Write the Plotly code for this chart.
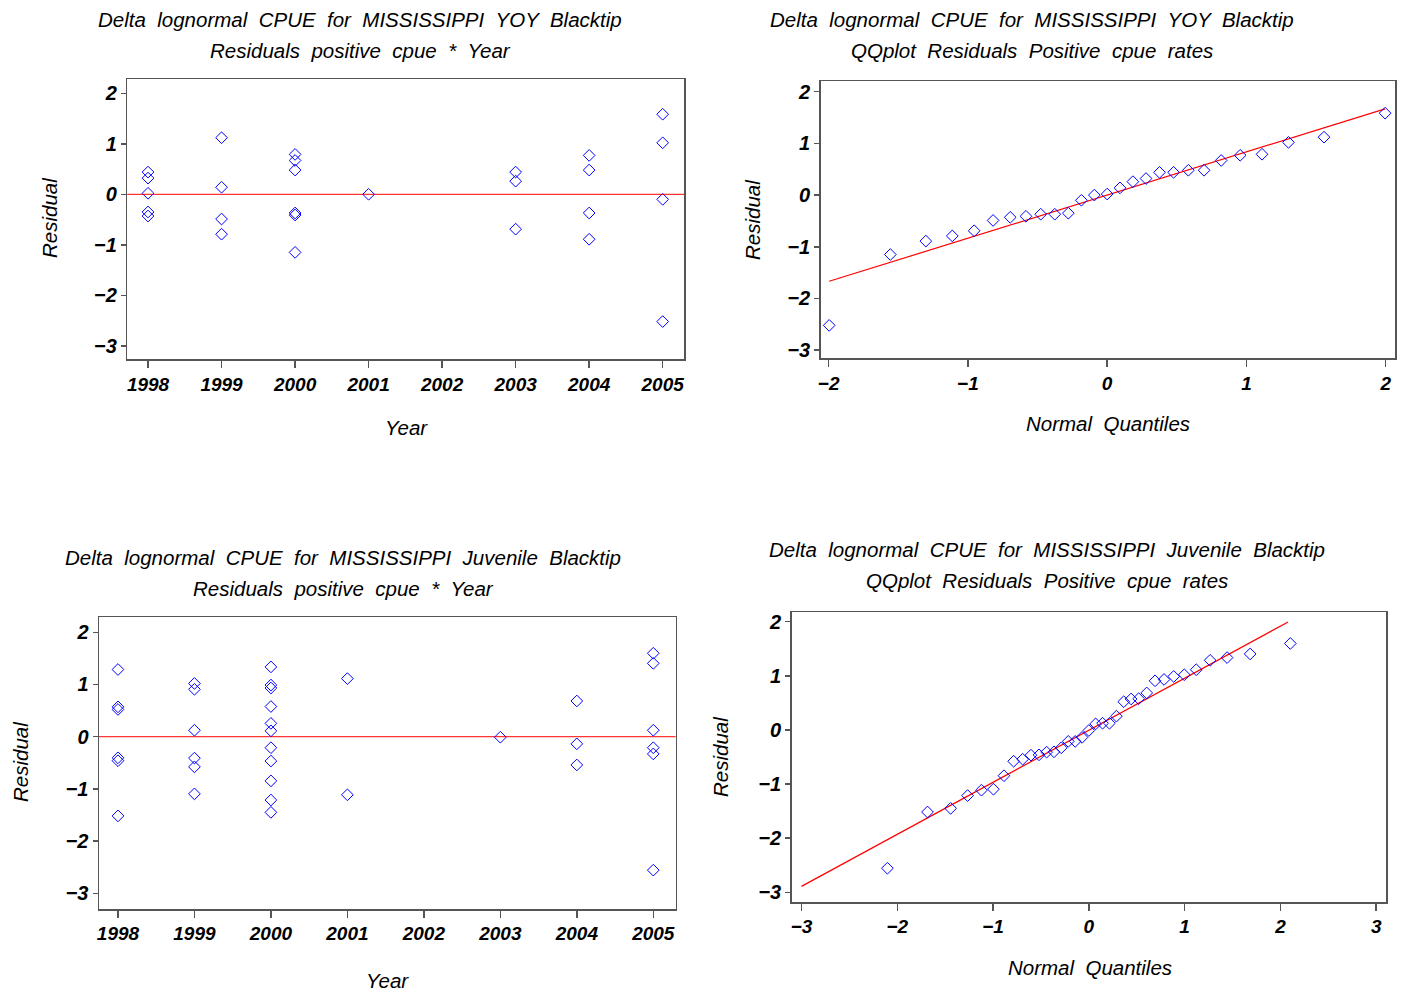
import plotly.graph_objects as go

# ---------------- data ----------------
# Panel 1: YOY residuals by year
yoy_years = [1998]*5 + [1999]*4 + [2000]*6 + [2001]*1 + [2003]*3 + [2004]*4 + [2005]*4
yoy_resid = [0.44, 0.32, 0.02, -0.35, -0.43,
             1.12, 0.14, -0.49, -0.79,
             0.79, 0.67, 0.48, -0.37, -0.41, -1.15,
             0.0,
             0.44, 0.26, -0.69,
             0.77, 0.48, -0.37, -0.89,
             1.585, 1.02, -0.10, -2.52]

# Panel 2: YOY QQ plot (normal quantiles)
yoy_quantiles = [-1.996, -1.557, -1.302, -1.112, -0.955, -0.819, -0.696, -0.583, -0.477,
                 -0.376, -0.279, -0.185, -0.092, 0.0, 0.092, 0.185, 0.279, 0.376, 0.477,
                 0.583, 0.696, 0.819, 0.955, 1.112, 1.302, 1.557, 1.996]
yoy_fit_intercept = 0.0
yoy_fit_slope = 0.835
yoy_fit_x = [-1.996, 1.996]

# Panel 3: Juvenile residuals by year
juv_years = [1998]*6 + [1999]*6 + [2000]*11 + [2001]*2 + [2003]*1 + [2004]*3 + [2005]*6
juv_resid = [1.287, 0.572, 0.522, -0.404, -0.46, -1.517,
             1.02, 0.908, 0.124, -0.41, -0.578, -1.095,
             1.337, 0.989, 0.933, 0.578, 0.255, 0.112, -0.211, -0.466, -0.846, -1.213, -1.449,
             1.113, -1.113,
             -0.01,
             0.684, -0.137, -0.541,
             1.598, 1.405, 0.124, -0.211, -0.33, -2.556]

# Panel 4: Juvenile QQ plot
juv_quantiles = [-2.103, -1.684, -1.443, -1.266, -1.121, -0.996, -0.886, -0.785, -0.691,
                 -0.604, -0.520, -0.441, -0.364, -0.288, -0.215, -0.143, -0.071, 0.0,
                 0.071, 0.143, 0.215, 0.288, 0.364, 0.441, 0.520, 0.604, 0.691, 0.785,
                 0.886, 0.996, 1.121, 1.266, 1.443, 1.684, 2.103]
juv_fit_intercept = -0.005
juv_fit_slope = 0.962
juv_fit_x = [-3.0, 2.08]

year_ticks = [1998, 1999, 2000, 2001, 2002, 2003, 2004, 2005]
resid_ticks = [-3, -2, -1, 0, 1, 2]
q_ticks_yoy = [-2, -1, 0, 1, 2]
q_ticks_juv = [-3, -2, -1, 0, 1, 2, 3]

titles = [
    ("Delta lognormal CPUE for MISSISSIPPI YOY Blacktip", "Residuals positive cpue * Year"),
    ("Delta lognormal CPUE for MISSISSIPPI YOY Blacktip", "QQplot Residuals Positive cpue rates"),
    ("Delta lognormal CPUE for MISSISSIPPI Juvenile Blacktip", "Residuals positive cpue * Year"),
    ("Delta lognormal CPUE for MISSISSIPPI Juvenile Blacktip", "QQplot Residuals Positive cpue rates"),
]

# ---------------- figure ----------------
W, H = 1406, 992
FONT = "Liberation Sans"
BLUE = "#0000ff"
RED = "#ff0000"

def px_x(p):
    return p / W

def px_y(p):
    return 1 - p / H

def wide(s):
    return s.replace(" ", " \u00a0")

fig = go.Figure()

marker = dict(symbol="diamond-open", size=9, color=BLUE, line=dict(width=1, color=BLUE))

fig.add_trace(go.Scatter(x=yoy_years, y=yoy_resid, mode="markers", marker=marker,
                         xaxis="x", yaxis="y", showlegend=False))
fig.add_trace(go.Scatter(x=yoy_fit_x, y=[yoy_fit_intercept + yoy_fit_slope * v for v in yoy_fit_x],
                         mode="lines", line=dict(color=RED, width=1.2),
                         xaxis="x2", yaxis="y2", showlegend=False))
fig.add_trace(go.Scatter(x=yoy_quantiles, y=sorted(yoy_resid), mode="markers", marker=marker,
                         xaxis="x2", yaxis="y2", showlegend=False))
fig.add_trace(go.Scatter(x=juv_years, y=juv_resid, mode="markers", marker=marker,
                         xaxis="x3", yaxis="y3", showlegend=False))
fig.add_trace(go.Scatter(x=juv_fit_x, y=[juv_fit_intercept + juv_fit_slope * v for v in juv_fit_x],
                         mode="lines", line=dict(color=RED, width=1.2),
                         xaxis="x4", yaxis="y4", showlegend=False))
fig.add_trace(go.Scatter(x=juv_quantiles, y=sorted(juv_resid), mode="markers", marker=marker,
                         xaxis="x4", yaxis="y4", showlegend=False))

tickfont = dict(family=FONT, size=19, color="black", style="italic", weight="bold")
ytickfont = dict(family=FONT, size=20, color="black", style="italic", weight="bold")

def fmt(ticks):
    return [str(t).replace("-", "\u2212") for t in ticks]

def xax(domain, rng, ticks, anchor):
    return dict(domain=domain, range=rng, tickvals=ticks, ticktext=fmt(ticks),
                showgrid=False, zeroline=False, showline=True, mirror=True,
                linecolor="#555555", linewidth=1.5, ticks="outside", ticklen=7,
                tickcolor="#555555", tickwidth=1.5, tickfont=tickfont, anchor=anchor,
                automargin=False)

def yax(domain, rng, ticks, anchor):
    return dict(domain=domain, range=rng, tickvals=ticks, ticktext=fmt(ticks),
                showgrid=False, zeroline=False, showline=True, mirror=True,
                linecolor="#555555", linewidth=1.5, ticks="outside", ticklen=5,
                tickcolor="#555555", tickwidth=1.5, tickfont=ytickfont, anchor=anchor,
                automargin=False)

fig.update_layout(
    width=W, height=H,
    margin=dict(l=0, r=0, t=0, b=0),
    paper_bgcolor="white", plot_bgcolor="white",
    font=dict(family=FONT, color="black"),
    hovermode=False,
    xaxis=xax([px_x(127.3), px_x(684.3)], [1997.718, 2005.294], year_ticks, "y"),
    yaxis=yax([px_y(359.3), px_y(79.3)], [-3.267, 2.277], resid_ticks, "x"),
    xaxis2=xax([px_x(820.7), px_x(1395)], [-2.057, 2.067], q_ticks_yoy, "y2"),
    yaxis2=yax([px_y(358.3), px_y(81)], [-3.157, 2.207], resid_ticks, "x2"),
    xaxis3=xax([px_x(99), px_x(675.7)], [1997.752, 2005.293], year_ticks, "y3"),
    yaxis3=yax([px_y(909), px_y(617.3)], [-3.30, 2.287], resid_ticks, "x3"),
    xaxis4=xax([px_x(791.7), px_x(1386)], [-3.102, 3.102], q_ticks_juv, "y4"),
    yaxis4=yax([px_y(902), px_y(612)], [-3.18, 2.18], resid_ticks, "x4"),
)

# zero reference lines on the residual-by-year panels
for xr, yr in [("x domain", "y"), ("x3 domain", "y3")]:
    fig.add_shape(type="line", xref=xr, yref=yr, x0=0, x1=1, y0=0, y1=0,
                  line=dict(color=RED, width=1), layer="below")

ann_font = dict(family=FONT, size=20.5, color="black", style="italic")

title_pos = [(360, 20, 50), (1032, 20, 50), (343, 557, 588), (1047, 549, 580)]
for (l1, l2), (cx, y1, y2) in zip(titles, title_pos):
    for txt, cy in [(l1, y1), (l2, y2)]:
        fig.add_annotation(text=wide(txt), x=px_x(cx), y=px_y(cy), xref="paper", yref="paper",
                           showarrow=False, font=ann_font, xanchor="center", yanchor="middle")

axis_titles = [
    ("Year", 406, 428, 0), ("Residual", 50, 218, -90),
    ("Normal Quantiles", 1108, 423, 0), ("Residual", 752, 220, -90),
    ("Year", 387, 980, 0), ("Residual", 20, 762, -90),
    ("Normal Quantiles", 1090, 967, 0), ("Residual", 720, 757, -90),
]
for t, cx, cy, ang in axis_titles:
    fig.add_annotation(text=wide(t), x=px_x(cx), y=px_y(cy), xref="paper", yref="paper",
                       showarrow=False, font=ann_font, textangle=ang,
                       xanchor="center", yanchor="middle")

fig.write_html("out.html", config={"displayModeBar": False, "staticPlot": True},
               post_script="document.body.style.margin='0';document.body.style.overflow='hidden';")
